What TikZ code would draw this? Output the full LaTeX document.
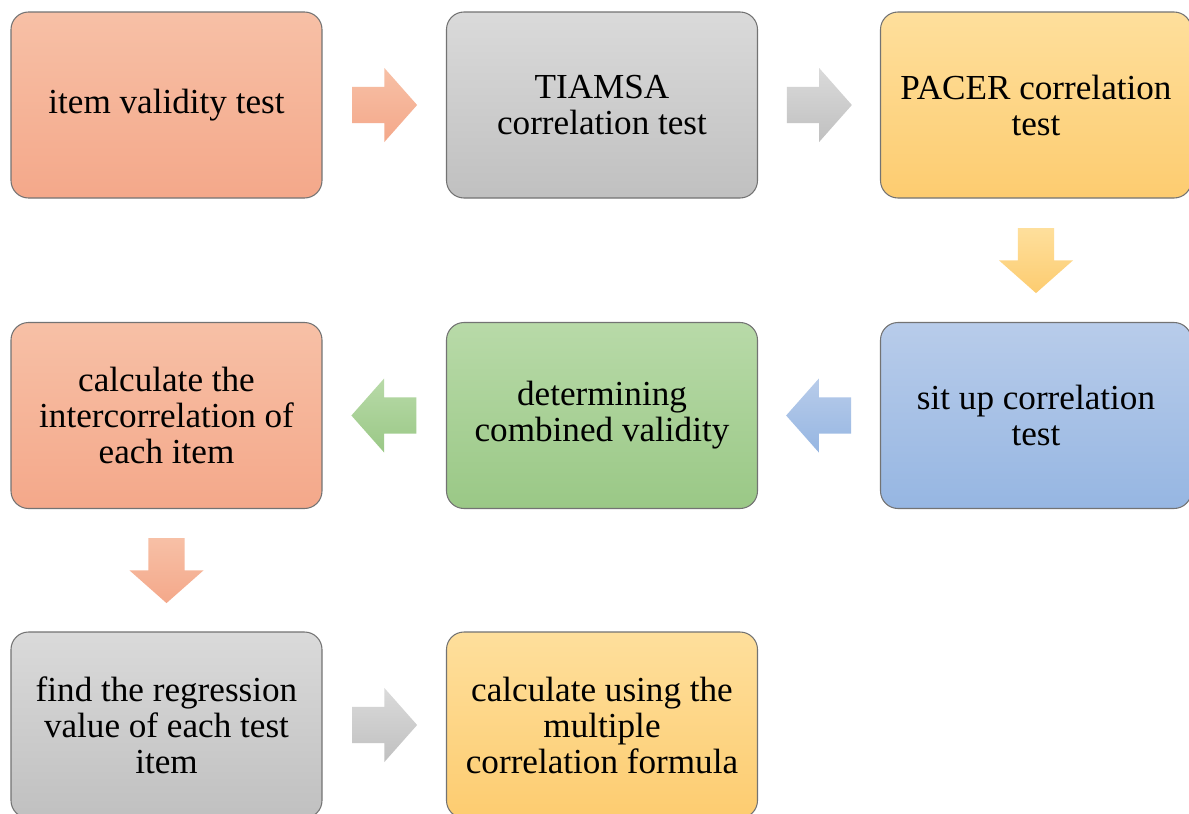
\documentclass[tikz,border=0pt]{standalone}
\usepackage{fontspec}
\setmainfont{Liberation Serif}
\usepackage{tikz}
\usetikzlibrary{shapes.arrows,calc}

\definecolor{orTop}{RGB}{247,192,166}
\definecolor{orBot}{RGB}{244,168,138}
\definecolor{grTop}{RGB}{218,218,218}
\definecolor{grBot}{RGB}{192,192,192}
\definecolor{ylTop}{RGB}{254,223,156}
\definecolor{ylBot}{RGB}{253,204,112}
\definecolor{blTop}{RGB}{184,204,234}
\definecolor{blBot}{RGB}{150,182,226}
\definecolor{gnTop}{RGB}{184,218,168}
\definecolor{gnBot}{RGB}{154,200,134}

\begin{document}
\begin{tikzpicture}
        \tikzset{stepbox/.style={draw=black!55, line width=0.6pt,
                rounded corners=0.35cm, minimum width=6.22cm,
                minimum height=3.72cm, align=center, inner sep=2pt,
                font=\fontsize{20}{20.5}\selectfont}}
        \tikzset{fatarrow/.style={single arrow, draw=none, anchor=tail,
                inner sep=0.24cm, minimum height=1.3cm, minimum width=1.48cm,
                single arrow head extend=0.26cm, single arrow tip angle=97}}
        \clip (0,0) rectangle (23.78,-16.28);
        \fill[white] (0,0) rectangle (23.78,-16.28);
        \node[stepbox, top color=orTop, bottom color=orBot] (valid) at (3.33,-2.1) {item validity test};
        \node[stepbox, top color=grTop, bottom color=grBot] (tiamsa) at (12.04,-2.1) {TIAMSA\\correlation test};
        \node[stepbox, top color=ylTop, bottom color=ylBot] (pacer) at (20.72,-2.1) {PACER correlation\\test};
        \node[stepbox, top color=blTop, bottom color=blBot] (situp) at (20.72,-8.31) {sit up correlation\\test};
        \node[stepbox, top color=gnTop, bottom color=gnBot] (combined) at (12.04,-8.31) {determining\\combined validity};
        \node[stepbox, top color=orTop, bottom color=orBot] (intercorr) at (3.33,-8.31) {calculate the\\intercorrelation of\\each item};
        \node[stepbox, top color=grTop, bottom color=grBot] (regress) at (3.33,-14.5) {find the regression\\value of each test\\item};
        \node[stepbox, top color=ylTop, bottom color=ylBot] (multiple) at (12.04,-14.5) {calculate using the\\multiple\\correlation formula};
        % block arrows between the steps
        \node[fatarrow, xshift=-0.65cm, top color=orTop, bottom color=orBot] (a1) at ($(valid.east)!0.5!(tiamsa.west)$) {};
        \node[fatarrow, xshift=-0.65cm, top color=grTop, bottom color=grBot] (a2) at ($(tiamsa.east)!0.5!(pacer.west)$) {};
        \node[fatarrow, yshift=0.65cm, shape border rotate=270, top color=ylTop, bottom color=ylBot] (a3) at ($(pacer.south)!0.5!(situp.north)$) {};
        \node[fatarrow, xshift=0.65cm, shape border rotate=180, top color=blTop, bottom color=blBot] (a4) at ($(situp.west)!0.5!(combined.east)$) {};
        \node[fatarrow, xshift=0.65cm, shape border rotate=180, top color=gnTop, bottom color=gnBot] (a5) at ($(combined.west)!0.5!(intercorr.east)$) {};
        \node[fatarrow, yshift=0.65cm, shape border rotate=270, top color=orTop, bottom color=orBot] (a6) at ($(intercorr.south)!0.5!(regress.north)$) {};
        \node[fatarrow, xshift=-0.65cm, top color=grTop, bottom color=grBot] (a7) at ($(regress.east)!0.5!(multiple.west)$) {};
    \end{tikzpicture}
\end{document}
